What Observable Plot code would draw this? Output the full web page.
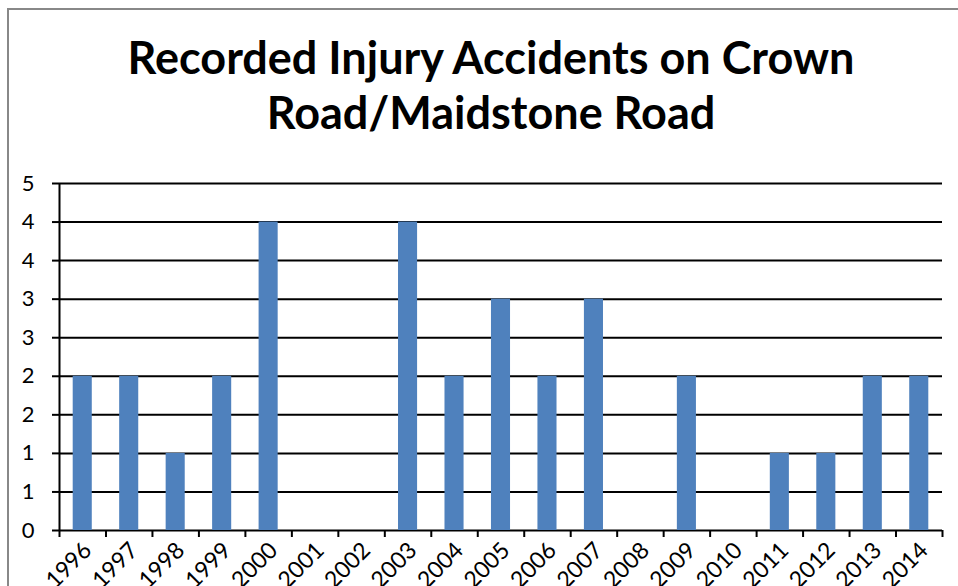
<!DOCTYPE html>
<html>
<head>
<meta charset="utf-8">
<script src="https://cdn.jsdelivr.net/npm/d3@7"></script>
<script src="https://cdn.jsdelivr.net/npm/@observablehq/plot@0.6"></script>
<style>
  html, body { margin: 0; padding: 0; background: #fff; overflow: hidden; }
  #wrap { position: relative; width: 958px; height: 586px; }
  #border { position: absolute; left: 7px; top: 8px; width: 960px; height: 600px;
            border-left: 2px solid #888; border-top: 2px solid #888; }
  #title { position: absolute; left: 24px; width: 934px; top: 30px; text-align: center;
           font-family: Lato, "Noto Sans", sans-serif; font-weight: bold; font-size: 45px;
           line-height: 55px; color: #000; }
  #chart { position: absolute; left: 0; top: 160px; }
  #chart svg { font-family: Lato, "Noto Sans", sans-serif; overflow: visible; }
</style>
</head>
<body>
<div id="wrap">
  <div id="border"></div>
  <div id="title">Recorded Injury Accidents on Crown<br>Road/Maidstone Road</div>
  <div id="chart"></div>
</div>
<script>
const years = [1996, 1997, 1998, 1999, 2000, 2001, 2002, 2003, 2004, 2005, 2006, 2007, 2008, 2009, 2010, 2011, 2012, 2013, 2014];
const accidents = [2, 2, 1, 2, 4, 0, 0, 4, 2, 3, 2, 3, 0, 2, 0, 1, 1, 2, 2];
const yTicks = [0, 0.5, 1, 1.5, 2, 2.5, 3, 3.5, 4, 4.5];
const yTickLabels = ["0", "1", "1", "2", "2", "3", "3", "4", "4", "5"];

const data = years.map((year, i) => ({year, count: accidents[i]}));
const boundaries = [...years.map(y => y - 0.5), years[years.length - 1] + 0.5];

const chart = Plot.plot({
  width: 958,
  height: 426,
  marginTop: 23,
  marginBottom: 56,
  marginLeft: 59,
  marginRight: 16,
  style: {fontSize: "22px", color: "#000", background: "transparent"},
  x: {type: "linear", domain: [boundaries[0], boundaries[boundaries.length - 1]], axis: null},
  y: {domain: [0, 4.5], axis: null},
  marks: [
    Plot.ruleY(yTicks, {stroke: "#000", strokeWidth: 2}),
    Plot.rectY(data, {x1: d => d.year - 0.5, x2: d => d.year + 0.5, y1: 0, y2: "count",
                      fill: "#4F81BD", insetLeft: 13.7, insetRight: 13.7}),
    Plot.ruleX([boundaries[0]], {stroke: "#000", strokeWidth: 2}),
    Plot.axisY({ticks: yTicks, tickFormat: (d, i) => yTickLabels[i], tickSize: 7, label: null,
                tickPadding: 18, strokeWidth: 2, stroke: "#000", fill: "#000"}),
    Plot.axisX({ticks: boundaries, tickFormat: () => "", tickSize: 7, label: null, strokeWidth: 2, stroke: "#000"}),
    Plot.axisX({ticks: years, tickFormat: d => String(d), tickSize: 0, tickRotate: -45, label: null,
                tickPadding: 16, dx: 5, fill: "#000", fontSize: 23})
  ]
});
document.getElementById("chart").appendChild(chart);
</script>
</body>
</html>
